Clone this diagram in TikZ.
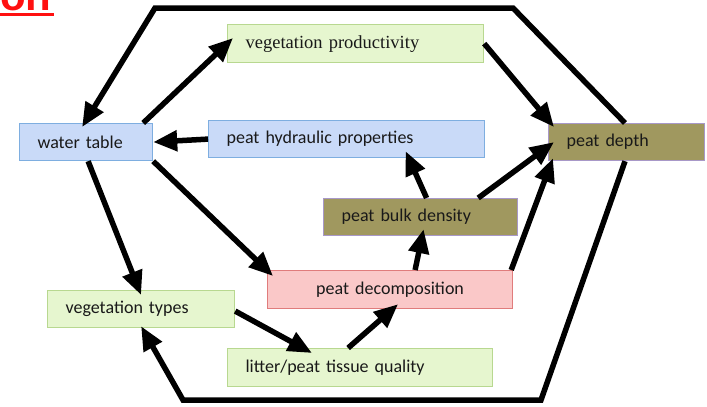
\documentclass[tikz,border=0pt]{standalone}
\usepackage{fontspec}
\setsansfont{Carlito}
\newfontfamily\titlefont{Liberation Sans}
\newfontfamily\vpfont{Liberation Serif}
\usetikzlibrary{arrows.meta}

\definecolor{bluefill}{HTML}{C9DAF8}
\definecolor{blueline}{HTML}{7EAEE0}
\definecolor{greenfill}{HTML}{E6F6CF}
\definecolor{greenline}{HTML}{B8D890}
\definecolor{olivefill}{HTML}{A0985F}
\definecolor{oliveline}{HTML}{A898C8}
\definecolor{pinkfill}{HTML}{FAC8C8}
\definecolor{pinkline}{HTML}{E07C7C}
\definecolor{titlered}{HTML}{FF1010}

\tikzset{
  factor/.style={draw, line width=1.2pt, anchor=north west, minimum height=37pt,
    inner xsep=18pt, inner ysep=0pt, align=left, text=black!90,
    font=\sffamily\fontsize{18}{20}\selectfont},
  bluebox/.style={factor, fill=bluefill, draw=blueline},
  greenbox/.style={factor, fill=greenfill, draw=greenline},
  olivebox/.style={factor, fill=olivefill, draw=oliveline},
  pinkbox/.style={factor, fill=pinkfill, draw=pinkline},
  link/.style={line width=5.5pt, -{Triangle[length=24pt,width=20pt]}},
  feedback/.style={line width=5.5pt, line join=miter, -{Triangle[length=24pt,width=20pt]}}
}

\begin{document}
\begin{tikzpicture}[x=1pt,y=-1pt]
  \useasboundingbox (0,0) rectangle (707,407);

  % bout du titre coupe
  \begin{scope}
    \clip (0,0) rectangle (707,407);
    \node[anchor=base west, inner sep=0pt, text=titlered,
      font=\titlefont\bfseries\fontsize{42}{42}\selectfont] (title) at (0,10) {on};
    \fill[titlered] (0,13) rectangle (54,16);
  \end{scope}

  % les boites
  \node[bluebox, text width=97pt] (wt) at (19,123) {water table};
  \node[greenbox, text width=220pt, minimum height=38pt,
    font=\vpfont\fontsize{18.5}{20}\selectfont] (vp) at (227,24) {vegetation productivity};
  \node[bluebox, text width=240pt] (hp) at (208,120) {peat hydraulic properties};
  \node[olivebox, text width=120pt] (pd) at (548,123) {peat depth};
  \node[olivebox, text width=158pt] (bd) at (323,198) {peat bulk density};
  \node[pinkbox, text width=209pt, minimum height=38pt, align=center] (dc) at (267,270) {peat decomposition};
  \node[greenbox, text width=151pt] (vt) at (47,290) {vegetation types};
  \node[greenbox, text width=229pt, minimum height=38pt] (lq) at (227,348) {litter/peat tissue quality};

  % les fleches
  \draw[link] ([xshift=-10pt]wt.north east) -- ([xshift=6pt,yshift=-14pt]vp.north west);
  \draw[link] (hp.west) -- (wt.east);
  \draw[link] (vp.east) -- ([xshift=6pt,yshift=-4pt]pd.north west);
  \draw[link] (wt.south east) -- ([xshift=6pt,yshift=-6pt]dc.north west);
  \draw[link] ([xshift=2pt]wt.south) -- ([yshift=-5pt]vt.north);
  \draw[link] ([yshift=-2pt]vt.east) -- ([xshift=85pt,yshift=-5pt]lq.north west);
  \draw[link] ([xshift=-12pt]lq.north) -- ([xshift=8pt,yshift=5pt]dc.south);
  \draw[link] ([xshift=25pt]dc.north) -- ([xshift=3pt,yshift=7pt]bd.south);
  \draw[link] ([xshift=6pt]bd.north) -- ([xshift=59pt,yshift=7pt]hp.south);
  \draw[link] ([xshift=-40pt]bd.north east) -- ([xshift=6pt]pd.west);
  \draw[link] ([xshift=-2pt]dc.north east) -- ([xshift=5pt,yshift=3pt]pd.south west);

  % l'hexagone de retour
  \draw[feedback] ([xshift=77pt]pd.north west) -- (513,8) -- (155,8) -- ([xshift=-4pt,yshift=-4pt]wt.north);
  \draw[feedback] ([xshift=77pt]pd.south west) -- (541,400) -- (183,400) -- ([yshift=2pt]vt.south);
\end{tikzpicture}
\end{document}
